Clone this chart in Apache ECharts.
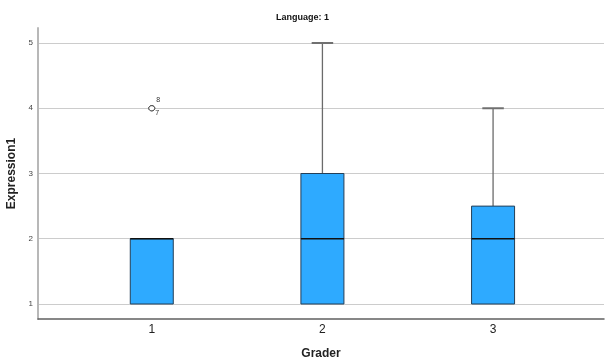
<!DOCTYPE html>
<html><head><meta charset="utf-8">
<script src="https://cdn.jsdelivr.net/npm/echarts@6/dist/echarts.min.js"></script>
<style>html,body{margin:0;padding:0;background:#fff}#c{width:605px;height:363px}</style>
</head><body><div id="c"></div>
<script>
const graders = [1, 2, 3];
const mins    = [1, 1, 1];
const q1s     = [1, 1, 1];
const medians = [2, 2, 2];
const q3s     = [2, 3, 2.5];
const maxs    = [2, 5, 4];
const outlierGrader = [1, 1];
const outlierValue  = [4, 4];
const outlierCase   = ['8', '7'];
const yTicks = [1, 2, 3, 4, 5];
const xTicks = [1, 2, 3];

const boxData = graders.map((g, i) => [g, mins[i], q1s[i], medians[i], q3s[i], maxs[i]]);
const outlierData = outlierGrader.map((g, i) => [g, outlierValue[i], outlierCase[i]]);

function renderBox(params, api) {
  const x = api.value(0);
  const mn = api.value(1), q1 = api.value(2), md = api.value(3), q3 = api.value(4), mx = api.value(5);
  const w = api.size([0.252, 0])[0];
  const cx = api.coord([x, md])[0];
  const yMin = api.coord([x, mn])[1], yQ1 = api.coord([x, q1])[1], yMd = api.coord([x, md])[1];
  const yQ3 = api.coord([x, q3])[1], yMax = api.coord([x, mx])[1];
  const children = [];
  const wStyle = { stroke: '#6b6b6b', lineWidth: 1.3 };
  if (mx > q3) {
    children.push({ type: 'line', shape: { x1: cx, y1: yQ3, x2: cx, y2: yMax }, style: wStyle });
    children.push({ type: 'line', shape: { x1: cx - w / 4, y1: yMax, x2: cx + w / 4, y2: yMax }, style: { stroke: '#707070', lineWidth: 2 } });
  }
  if (mn < q1) {
    children.push({ type: 'line', shape: { x1: cx, y1: yQ1, x2: cx, y2: yMin }, style: wStyle });
    children.push({ type: 'line', shape: { x1: cx - w / 4, y1: yMin, x2: cx + w / 4, y2: yMin }, style: { stroke: '#707070', lineWidth: 2 } });
  }
  children.push({ type: 'rect', shape: { x: cx - w / 2, y: yQ3, width: w, height: yQ1 - yQ3 },
    style: { fill: '#2eaaff', stroke: '#243f58', lineWidth: 1 } });
  children.push({ type: 'line', shape: { x1: cx - w / 2, y1: yMd, x2: cx + w / 2, y2: yMd },
    style: { stroke: '#111', lineWidth: 1.5 } });
  return { type: 'group', children };
}

function renderOutlier(params, api) {
  const p = api.coord([api.value(0), api.value(1)]);
  const label = outlierData[params.dataIndex][2];
  const above = params.dataIndex === 0;
  return {
    type: 'group',
    children: [
      { type: 'ellipse', shape: { cx: p[0], cy: p[1], rx: 3, ry: 2.6 },
        style: { fill: '#fff', stroke: '#444', lineWidth: 1 } },
      { type: 'text', x: p[0] + (above ? 4.5 : 3.5), y: p[1] + (above ? -11.5 : 1.5),
        style: { text: label, fontFamily: 'Liberation Sans, Arial', fontSize: 7, fill: '#333' } }
    ]
  };
}

const chart = echarts.init(document.getElementById('c'), null, { renderer: 'canvas' });
chart.setOption({
  animation: false,
  backgroundColor: '#fff',
  title: {
    text: 'Language: 1', left: 'center', top: 8,
    textStyle: { fontFamily: 'Liberation Sans, Arial', fontSize: 9, fontWeight: 'bold', color: '#111' }
  },
  grid: { left: 38, right: 1, top: 28, bottom: 44, outerBoundsMode: 'none', containLabel: false },
  xAxis: {
    type: 'value', min: 1 / 3, max: 3.65,
    name: 'Grader', nameLocation: 'middle', nameGap: 29,
    nameTextStyle: { fontFamily: 'Liberation Sans, Arial', fontSize: 12, fontWeight: 'bold', color: '#222' },
    axisLine: { show: true, lineStyle: { color: '#606060', width: 1.5 } },
    axisTick: { show: false, customValues: xTicks },
    splitLine: { show: false },
    axisLabel: { customValues: xTicks, fontFamily: 'Liberation Sans, Arial', fontSize: 12, color: '#222', margin: 5 }
  },
  yAxis: {
    type: 'value', min: 0.77, max: 5.23,
    name: 'Expression1', nameLocation: 'middle', nameGap: 11, nameRotate: 90,
    nameTextStyle: { fontFamily: 'Liberation Sans, Arial', fontSize: 12, fontWeight: 'bold', color: '#222' },
    axisLine: { show: true, lineStyle: { color: '#b8b8b8', width: 2 } },
    axisTick: { show: false, customValues: yTicks },
    splitLine: { show: true, lineStyle: { color: '#cccccc', width: 1 } },
    axisLabel: { customValues: yTicks, fontFamily: 'Liberation Sans, Arial', fontSize: 8, color: '#444', margin: 5 }
  },
  series: [
    {
      type: 'custom', renderItem: renderBox, data: boxData,
      encode: { x: 0, y: [1, 2, 3, 4, 5] }, z: 3
    },
    {
      type: 'custom', renderItem: renderOutlier, data: outlierData.map(d => [d[0], d[1]]),
      encode: { x: 0, y: 1 }, z: 4
    }
  ]
});
</script></body></html>
